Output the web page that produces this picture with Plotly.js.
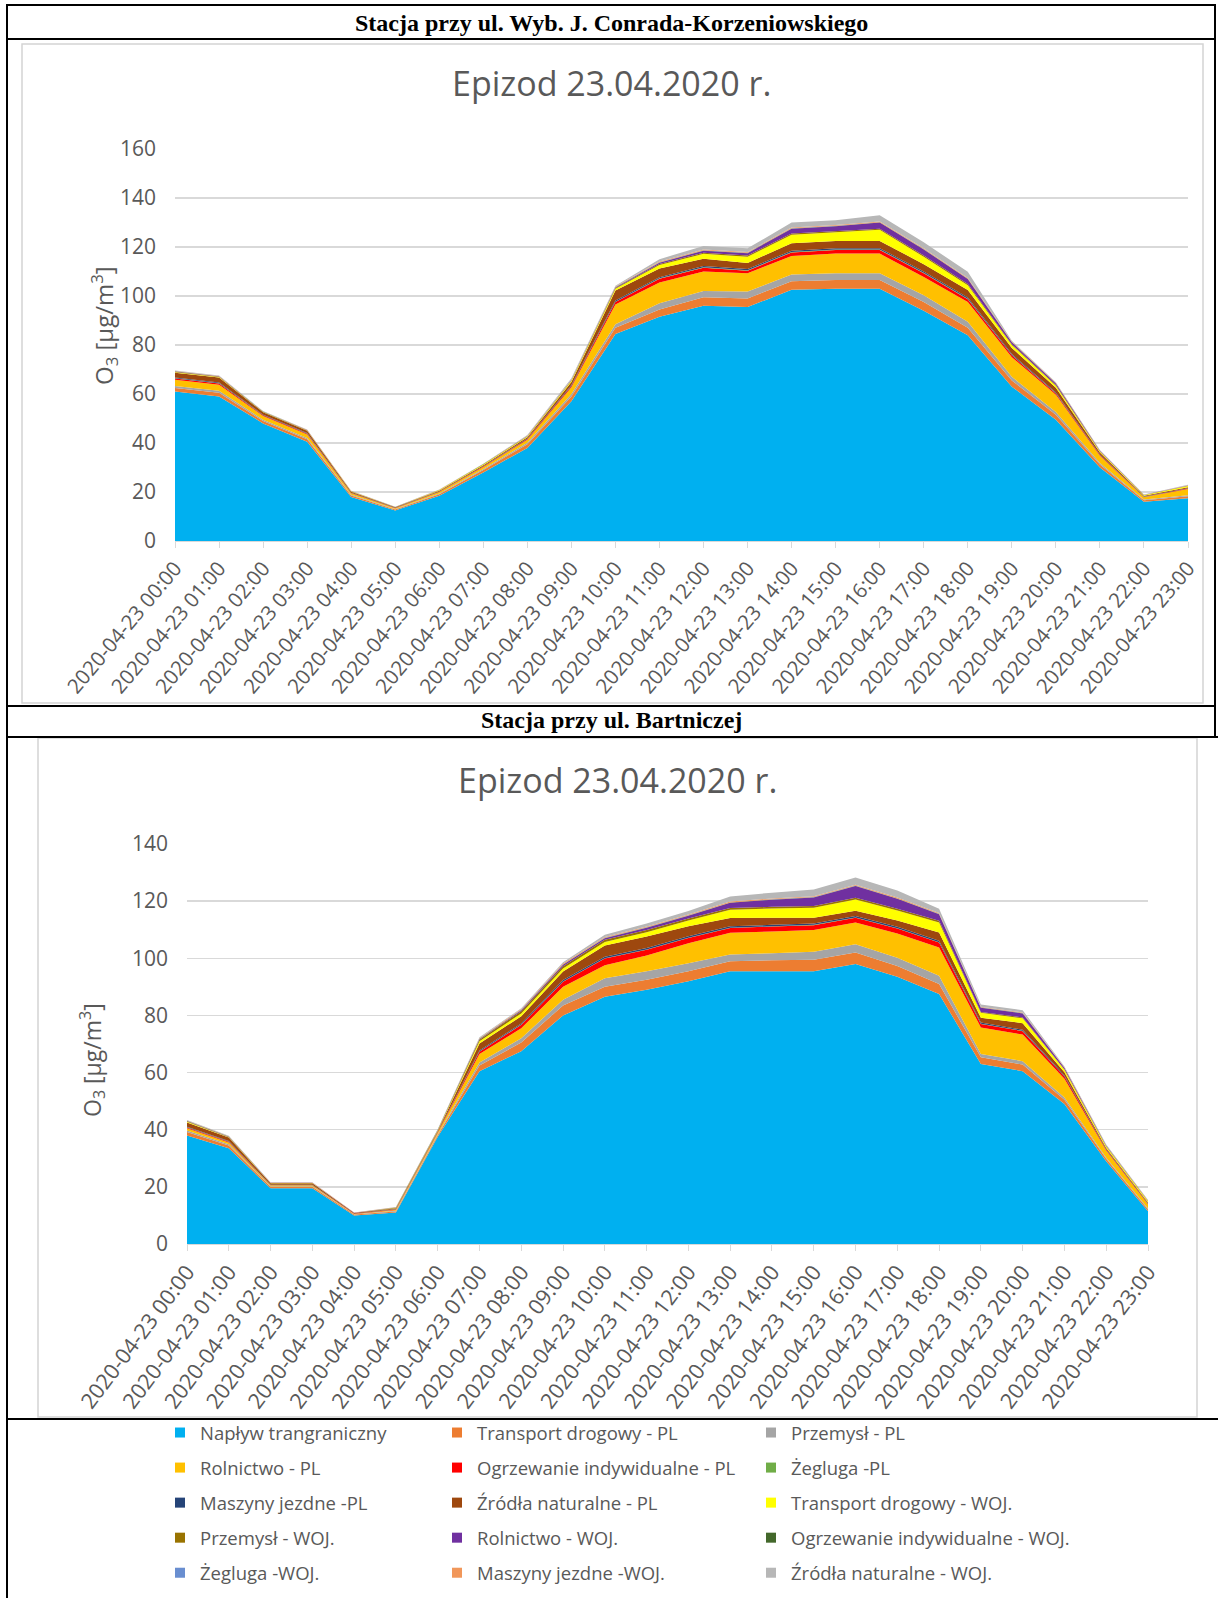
<!DOCTYPE html>
<html>
<head>
<meta charset="utf-8">
<script src="https://cdn.plot.ly/plotly-3.0.1.min.js"></script>
<style>
  html, body { margin: 0; padding: 0; background: #ffffff; }
  #page { width: 1218px; height: 1598px; }
</style>
</head>
<body>
<div id="page"></div>
<script>
// Hour labels (category axis)
const hours = [
  '2020-04-23 00:00', '2020-04-23 01:00', '2020-04-23 02:00', '2020-04-23 03:00',
  '2020-04-23 04:00', '2020-04-23 05:00', '2020-04-23 06:00', '2020-04-23 07:00',
  '2020-04-23 08:00', '2020-04-23 09:00', '2020-04-23 10:00', '2020-04-23 11:00',
  '2020-04-23 12:00', '2020-04-23 13:00', '2020-04-23 14:00', '2020-04-23 15:00',
  '2020-04-23 16:00', '2020-04-23 17:00', '2020-04-23 18:00', '2020-04-23 19:00',
  '2020-04-23 20:00', '2020-04-23 21:00', '2020-04-23 22:00', '2020-04-23 23:00'
];

// Source categories (stacking order, bottom to top)
const sourceNames = [
  'Napływ trangraniczny', 'Transport drogowy - PL', 'Przemysł - PL',
  'Rolnictwo - PL', 'Ogrzewanie indywidualne - PL', 'Żegluga -PL',
  'Maszyny jezdne -PL', 'Źródła naturalne - PL', 'Transport drogowy - WOJ.',
  'Przemysł - WOJ.', 'Rolnictwo - WOJ.', 'Ogrzewanie indywidualne - WOJ.',
  'Żegluga -WOJ.', 'Maszyny jezdne -WOJ.', 'Źródła naturalne - WOJ.'
];
const sourceColors = [
  '#00B0F0', '#ED7D31', '#A5A5A5',
  '#FFC000', '#FF0000', '#70AD47',
  '#264478', '#9E480E', '#FFFF00',
  '#997300', '#7030A0', '#43682B',
  '#698ED0', '#F1975A', '#B7B7B7'
];

// Station: ul. Wyb. J. Conrada-Korzeniowskiego, O3 contributions [µg/m3]
const conradaNaplyw     = [61, 59, 48, 40.5, 18, 12.5, 18.5, 28, 38, 57, 84.5, 91.5, 96, 95.5, 102.5, 103, 103, 94, 84, 63, 49.5, 30, 16, 17.5];
const conradaTranspPL   = [1.5, 1.5, 1.0, 1.0, 0.6, 0.4, 0.6, 1.0, 1.5, 2.0, 2.5, 3.0, 3.5, 3.5, 3.5, 3.5, 3.5, 3.5, 3.0, 2.5, 2.0, 1.2, 0.6, 0.8];
const conradaPrzemPL    = [0.8, 0.8, 0.5, 0.5, 0.3, 0.2, 0.3, 0.4, 0.6, 1.0, 1.5, 2.5, 2.5, 2.8, 2.8, 2.8, 2.8, 2.8, 2.5, 1.5, 1.2, 0.6, 0.3, 0.4];
const conradaRolnPL     = [2.5, 2.5, 1.5, 1.5, 0.6, 0.3, 0.6, 0.8, 1.2, 2.8, 8.0, 8.5, 8.0, 7.5, 7.5, 8.0, 8.0, 7.5, 8.0, 8.0, 7.0, 3.0, 1.0, 2.5];
const conradaOgrzPL     = [0.5, 0.5, 0.3, 0.3, 0.1, 0.1, 0.1, 0.2, 0.3, 0.5, 1.0, 1.5, 1.5, 1.0, 1.5, 1.5, 1.5, 1.5, 1.2, 0.8, 0.5, 0.3, 0.1, 0.2];
const conradaZeglPL     = [0.1, 0.1, 0.05, 0.05, 0.03, 0.02, 0.03, 0.05, 0.05, 0.1, 0.2, 0.2, 0.2, 0.2, 0.2, 0.2, 0.2, 0.2, 0.2, 0.1, 0.1, 0.05, 0.03, 0.05];
const conradaMaszPL     = [0.3, 0.3, 0.2, 0.2, 0.1, 0.05, 0.1, 0.1, 0.2, 0.3, 0.5, 0.5, 0.5, 0.5, 0.5, 0.5, 0.5, 0.5, 0.5, 0.4, 0.3, 0.2, 0.1, 0.1];
const conradaZrodPL     = [2.0, 2.0, 1.0, 1.0, 0.4, 0.2, 0.3, 0.4, 0.5, 1.2, 4.0, 3.5, 3.0, 2.5, 3.0, 3.0, 3.0, 3.0, 3.0, 2.5, 2.0, 0.8, 0.3, 0.4];
const conradaTranspWOJ  = [0.2, 0.2, 0.1, 0.1, 0.1, 0.05, 0.2, 0.3, 0.3, 0.5, 0.8, 1.5, 2.0, 2.5, 3.5, 3.5, 4.5, 3.0, 2.0, 1.2, 0.8, 0.4, 0.3, 0.5];
const conradaPrzemWOJ   = [0.2, 0.2, 0.1, 0.1, 0.05, 0.03, 0.05, 0.05, 0.1, 0.2, 0.3, 0.4, 0.5, 0.5, 0.5, 0.5, 0.5, 0.5, 0.5, 0.3, 0.3, 0.1, 0.05, 0.1];
const conradaRolnWOJ    = [0.1, 0.1, 0.05, 0.05, 0.03, 0.02, 0.03, 0.05, 0.1, 0.1, 0.2, 0.5, 0.8, 1.0, 2.0, 2.0, 2.5, 2.5, 2.0, 0.8, 0.6, 0.2, 0.05, 0.1];
const conradaOgrzWOJ    = [0.05, 0.05, 0.03, 0.03, 0.02, 0.01, 0.02, 0.03, 0.05, 0.05, 0.1, 0.1, 0.1, 0.1, 0.1, 0.1, 0.1, 0.1, 0.1, 0.1, 0.05, 0.03, 0.02, 0.03];
const conradaZeglWOJ    = [0.02, 0.02, 0.02, 0.02, 0.02, 0.02, 0.02, 0.02, 0.02, 0.02, 0.05, 0.05, 0.05, 0.05, 0.05, 0.05, 0.05, 0.05, 0.05, 0.02, 0.02, 0.02, 0.02, 0.02];
const conradaMaszWOJ    = [0.1, 0.1, 0.05, 0.05, 0.03, 0.02, 0.05, 0.05, 0.1, 0.1, 0.2, 0.3, 0.3, 0.3, 0.3, 0.3, 0.3, 0.3, 0.3, 0.2, 0.2, 0.1, 0.05, 0.1];
const conradaZrodWOJ    = [0.2, 0.2, 0.15, 0.15, 0.1, 0.1, 0.1, 0.1, 0.2, 0.6, 0.3, 1.0, 1.5, 1.5, 2.0, 2.0, 2.5, 2.5, 2.5, 0.3, 0.2, 0.1, 0.1, 0.2];

// Station: ul. Bartnicza, O3 contributions [µg/m3]
const bartNaplyw        = [38, 33.5, 19.5, 19.5, 10, 11, 37.5, 60.5, 67.5, 80, 86.5, 89, 92, 95.5, 95.5, 95.5, 98, 93.5, 87.5, 63, 60.5, 49, 29, 11.5];
const bartTranspPL      = [1.2, 1.0, 0.5, 0.5, 0.3, 0.4, 0.6, 2.0, 3.0, 3.5, 3.5, 3.5, 3.5, 3.5, 3.8, 4.0, 4.0, 3.8, 3.5, 2.4, 2.3, 1.5, 0.8, 0.6];
const bartPrzemPL       = [0.5, 0.4, 0.2, 0.2, 0.1, 0.2, 0.3, 1.0, 1.5, 2.0, 3.0, 3.0, 2.8, 2.3, 2.5, 2.8, 2.9, 2.9, 2.9, 1.1, 1.2, 0.8, 0.4, 0.3];
const bartRolnPL        = [0.8, 0.6, 0.3, 0.3, 0.1, 0.3, 0.5, 3.0, 3.5, 4.5, 4.6, 5.5, 7.0, 7.6, 7.6, 7.6, 7.6, 8.5, 9.9, 9.3, 9.3, 6.5, 2.5, 1.5];
const bartOgrzPL        = [0.3, 0.3, 0.1, 0.1, 0.05, 0.2, 0.2, 0.8, 1.2, 1.8, 2.3, 2.0, 1.8, 1.7, 1.7, 1.7, 1.7, 1.7, 1.7, 1.2, 1.2, 0.8, 0.3, 0.2];
const bartZeglPL        = [0.05, 0.05, 0.02, 0.02, 0.01, 0.02, 0.02, 0.1, 0.1, 0.1, 0.1, 0.1, 0.1, 0.1, 0.1, 0.1, 0.1, 0.1, 0.1, 0.1, 0.1, 0.05, 0.02, 0.02];
const bartMaszPL        = [0.2, 0.2, 0.1, 0.1, 0.05, 0.1, 0.1, 0.3, 0.4, 0.5, 0.5, 0.5, 0.5, 0.5, 0.5, 0.5, 0.5, 0.5, 0.5, 0.4, 0.4, 0.3, 0.1, 0.1];
const bartZrodPL        = [1.5, 1.2, 0.5, 0.5, 0.2, 0.3, 0.3, 2.5, 2.5, 3.0, 4.0, 4.0, 3.5, 2.9, 2.5, 2.0, 1.8, 2.2, 2.9, 1.7, 2.3, 1.2, 0.5, 0.3];
const bartTranspWOJ     = [0.2, 0.1, 0.1, 0.1, 0.05, 0.1, 0.2, 0.8, 1.0, 1.0, 1.2, 1.5, 2.0, 2.9, 3.2, 3.5, 4.0, 3.5, 3.5, 1.7, 1.7, 0.8, 0.5, 0.4];
const bartPrzemWOJ      = [0.2, 0.1, 0.05, 0.05, 0.03, 0.05, 0.1, 0.5, 0.8, 0.8, 0.8, 0.8, 0.7, 0.6, 0.6, 0.6, 0.6, 0.6, 0.6, 0.3, 0.3, 0.2, 0.1, 0.1];
const bartRolnWOJ       = [0.1, 0.1, 0.05, 0.05, 0.03, 0.05, 0.1, 0.2, 0.3, 0.5, 0.5, 0.8, 1.0, 1.8, 2.5, 3.0, 4.1, 3.5, 2.3, 1.5, 1.4, 0.5, 0.2, 0.1];
const bartOgrzWOJ       = [0.05, 0.05, 0.03, 0.03, 0.02, 0.03, 0.03, 0.1, 0.1, 0.1, 0.1, 0.1, 0.1, 0.1, 0.1, 0.1, 0.1, 0.1, 0.1, 0.1, 0.1, 0.05, 0.03, 0.03];
const bartZeglWOJ       = [0.02, 0.02, 0.02, 0.02, 0.02, 0.02, 0.02, 0.05, 0.05, 0.05, 0.05, 0.05, 0.05, 0.05, 0.05, 0.05, 0.05, 0.05, 0.05, 0.05, 0.05, 0.02, 0.02, 0.02];
const bartMaszWOJ       = [0.1, 0.1, 0.05, 0.05, 0.03, 0.05, 0.05, 0.2, 0.3, 0.3, 0.3, 0.3, 0.3, 0.3, 0.3, 0.3, 0.3, 0.3, 0.3, 0.2, 0.2, 0.1, 0.05, 0.05];
const bartZrodWOJ       = [0.2, 0.15, 0.1, 0.1, 0.05, 0.1, 0.1, 0.3, 0.3, 0.5, 0.8, 1.0, 1.2, 1.8, 2.0, 2.3, 2.5, 2.5, 1.5, 0.8, 0.8, 0.3, 0.3, 0.2];

const conradaSeries = [
  conradaNaplyw, conradaTranspPL, conradaPrzemPL, conradaRolnPL, conradaOgrzPL,
  conradaZeglPL, conradaMaszPL, conradaZrodPL, conradaTranspWOJ, conradaPrzemWOJ,
  conradaRolnWOJ, conradaOgrzWOJ, conradaZeglWOJ, conradaMaszWOJ, conradaZrodWOJ
];
const bartSeries = [
  bartNaplyw, bartTranspPL, bartPrzemPL, bartRolnPL, bartOgrzPL,
  bartZeglPL, bartMaszPL, bartZrodPL, bartTranspWOJ, bartPrzemWOJ,
  bartRolnWOJ, bartOgrzWOJ, bartZeglWOJ, bartMaszWOJ, bartZrodWOJ
];

// Page geometry helpers: pixel position -> paper fraction
const W = 1218, H = 1598;
const px = x => x / W;
const py = y => 1 - y / H;

const GREY_TEXT = '#595959';
const GRID = '#d9d9d9';
const FONT = 'Open Sans, Arial, sans-serif';

const traces = [];
function addStack(series, group, xa, ya) {
  series.forEach((vals, i) => {
    traces.push({
      type: 'scatter', mode: 'lines',
      x: hours, y: vals,
      stackgroup: group,
      line: { width: 0, color: sourceColors[i] },
      fillcolor: sourceColors[i],
      name: sourceNames[i],
      showlegend: false,
      hoverinfo: 'skip',
      xaxis: xa, yaxis: ya
    });
  });
}
addStack(conradaSeries, 'conrada', 'x', 'y');
addStack(bartSeries, 'bartnicza', 'x2', 'y2');

// Legend entries (square swatches), laid out in three columns
const legendIds = ['legend', 'legend2', 'legend3'];
sourceNames.forEach((name, i) => {
  traces.push({
    type: 'scatter', mode: 'markers',
    x: [null], y: [null],
    xaxis: 'x2', yaxis: 'y2',
    name: name,
    marker: { symbol: 'square', size: 10, color: sourceColors[i] },
    legend: legendIds[i % 3],
    legendgroup: 'src' + i,
    showlegend: true,
    hoverinfo: 'skip'
  });
});

function xAxis(x0, x1, anchor, angle, size) {
  return {
    domain: [px(x0), px(x1)], anchor: anchor,
    type: 'category', range: [0, hours.length - 1],
    tickmode: 'linear', tick0: 0, dtick: 1,
    tickangle: angle,
    tickfont: { family: FONT, size: size, color: GREY_TEXT },
    showgrid: false, zeroline: false,
    showline: true, linecolor: GRID, linewidth: 1,
    ticks: 'outside', ticklen: 6, tickcolor: GRID,
    fixedrange: true
  };
}
function yAxis(y0, y1, maxVal, anchor) {
  return {
    domain: [py(y0), py(y1)], anchor: anchor,
    range: [0, maxVal], dtick: 20, tick0: 0,
    tickfont: { family: FONT, size: 21, color: GREY_TEXT },
    showgrid: true, gridcolor: GRID, gridwidth: 1.5,
    zeroline: false, showline: false, ticks: '',
    ticklabelstandoff: 18,
    fixedrange: true
  };
}

const legendBase = {
  orientation: 'v', xanchor: 'left', yanchor: 'top',
  traceorder: 'grouped', tracegroupgap: 8,
  font: { family: FONT, size: 18.5, color: GREY_TEXT },
  bgcolor: 'rgba(0,0,0,0)', borderwidth: 0,
  itemclick: false, itemdoubleclick: false
};

function hLine(x0, x1, y, w) {
  return { type: 'line', xref: 'paper', yref: 'paper', x0: px(x0), x1: px(x1), y0: py(y), y1: py(y),
           line: { color: '#000000', width: w || 2 } };
}
function vLine(x, y0, y1, w) {
  return { type: 'line', xref: 'paper', yref: 'paper', x0: px(x), x1: px(x), y0: py(y0), y1: py(y1),
           line: { color: '#000000', width: w || 2 } };
}
function frame(x0, y0, x1, y1) {
  return { type: 'rect', xref: 'paper', yref: 'paper', layer: 'below',
           x0: px(x0), x1: px(x1), y0: py(y1), y1: py(y0),
           line: { color: '#d4d4d4', width: 1.5 }, fillcolor: 'rgba(0,0,0,0)' };
}

const layout = {
  width: W, height: H,
  margin: { l: 0, r: 0, t: 0, b: 0, autoexpand: false },
  paper_bgcolor: '#ffffff', plot_bgcolor: 'rgba(0,0,0,0)',
  font: { family: FONT, color: GREY_TEXT },
  hovermode: false,
  xaxis: xAxis(175, 1188, 'y', -50, 20.5),
  yaxis: yAxis(541, 149, 160, 'x'),
  xaxis2: xAxis(187, 1148, 'y2', -53, 21.5),
  yaxis2: yAxis(1244, 844, 140, 'x2'),
  legend:  Object.assign({}, legendBase, { x: px(160), y: py(1414) }),
  legend2: Object.assign({}, legendBase, { x: px(437), y: py(1414) }),
  legend3: Object.assign({}, legendBase, { x: px(751), y: py(1414) }),
  shapes: [
    frame(22, 44, 1203, 703),
    frame(38, 738, 1197, 1417),
    hLine(6, 1216, 5),
    vLine(7, 4, 1598),
    vLine(1215, 4, 738),
    hLine(6, 1216, 39),
    hLine(6, 1216, 706),
    hLine(6, 1218, 737),
    hLine(6, 1218, 1419)
  ],
  annotations: [
    { xref: 'paper', yref: 'paper', x: px(611), y: py(22.5), xanchor: 'center', yanchor: 'middle', showarrow: false,
      text: '<b>Stacja przy ul. Wyb. J. Conrada-Korzeniowskiego</b>',
      font: { family: 'Liberation Serif, Times New Roman, serif', size: 24, color: '#000000' } },
    { xref: 'paper', yref: 'paper', x: px(611), y: py(720), xanchor: 'center', yanchor: 'middle', showarrow: false,
      text: '<b>Stacja przy ul. Bartniczej</b>',
      font: { family: 'Liberation Serif, Times New Roman, serif', size: 24, color: '#000000' } },
    { xref: 'paper', yref: 'paper', x: px(611), y: py(83), xanchor: 'center', yanchor: 'middle', showarrow: false,
      text: 'Epizod 23.04.2020 r.', font: { family: FONT, size: 34, color: GREY_TEXT } },
    { xref: 'paper', yref: 'paper', x: px(617), y: py(780), xanchor: 'center', yanchor: 'middle', showarrow: false,
      text: 'Epizod 23.04.2020 r.', font: { family: FONT, size: 34, color: GREY_TEXT } },
    { xref: 'paper', yref: 'paper', x: px(104), y: py(326), xanchor: 'center', yanchor: 'middle', showarrow: false,
      textangle: -90, text: 'O<sub>3</sub> [µg/m<sup>3</sup>]', font: { family: FONT, size: 24, color: GREY_TEXT } },
    { xref: 'paper', yref: 'paper', x: px(92), y: py(1060), xanchor: 'center', yanchor: 'middle', showarrow: false,
      textangle: -90, text: 'O<sub>3</sub> [µg/m<sup>3</sup>]', font: { family: FONT, size: 23, color: GREY_TEXT } }
  ]
};

Plotly.newPlot('page', traces, layout, { staticPlot: true, displayModeBar: false });
</script>
</body>
</html>
